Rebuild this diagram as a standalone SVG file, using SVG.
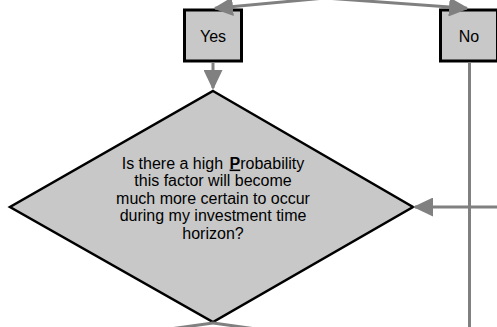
<svg xmlns="http://www.w3.org/2000/svg" width="497" height="327" viewBox="0 0 497 327">
<style>
.box{fill:#c8c8c8;stroke:#000;stroke-width:3}
.dia{fill:#c8c8c8;stroke:#000;stroke-width:2.5;stroke-linejoin:miter}
.t{font-family:"Liberation Sans",Arial,sans-serif;font-size:16px;fill:#000;text-anchor:middle}
.c{fill:none;stroke:#808080;stroke-width:3}
</style>
<defs>
<marker id="ah" markerUnits="userSpaceOnUse" markerWidth="20" markerHeight="19" refX="18" refY="9.5" orient="auto">
<path d="M0,0 L20,9.5 L0,19 z" fill="#808080"/>
</marker>
</defs>
<rect width="497" height="327" fill="#fff"/>
<g id="node-yes">
<rect class="box" x="184.5" y="10" width="57" height="51"/>
<text class="t" x="213" y="42">Yes</text>
</g>
<g id="node-no">
<rect class="box" x="440.5" y="10" width="57" height="51"/>
<text class="t" x="469" y="42">No</text>
</g>
<g id="node-decision">
<polygon class="dia" points="213,91 413,207 213,322 10,207"/>
<text class="t" x="213" y="168.5">Is there a high <tspan font-weight="bold" text-decoration="underline" dx="2">P</tspan>robability</text>
<text class="t" x="213" y="186">this factor will become</text>
<text class="t" x="213" y="203.5">much more certain to occur</text>
<text class="t" x="213" y="221">during my investment time</text>
<text class="t" x="213" y="238.5">horizon?</text>
</g>
<g id="connectors">
<line class="c" x1="325" y1="-2" x2="215" y2="8.3" marker-end="url(#ah)"/>
<line class="c" x1="325" y1="-2" x2="467" y2="8.3" marker-end="url(#ah)"/>
<line class="c" x1="213" y1="62.5" x2="213" y2="88" marker-end="url(#ah)"/>
<line class="c" x1="469.5" y1="62.5" x2="469.5" y2="330"/>
<line class="c" x1="500" y1="207" x2="415" y2="207" marker-end="url(#ah)"/>
<line class="c" x1="213" y1="323" x2="105" y2="338"/>
<line class="c" x1="213" y1="323" x2="321" y2="338"/>
</g>
</svg>
